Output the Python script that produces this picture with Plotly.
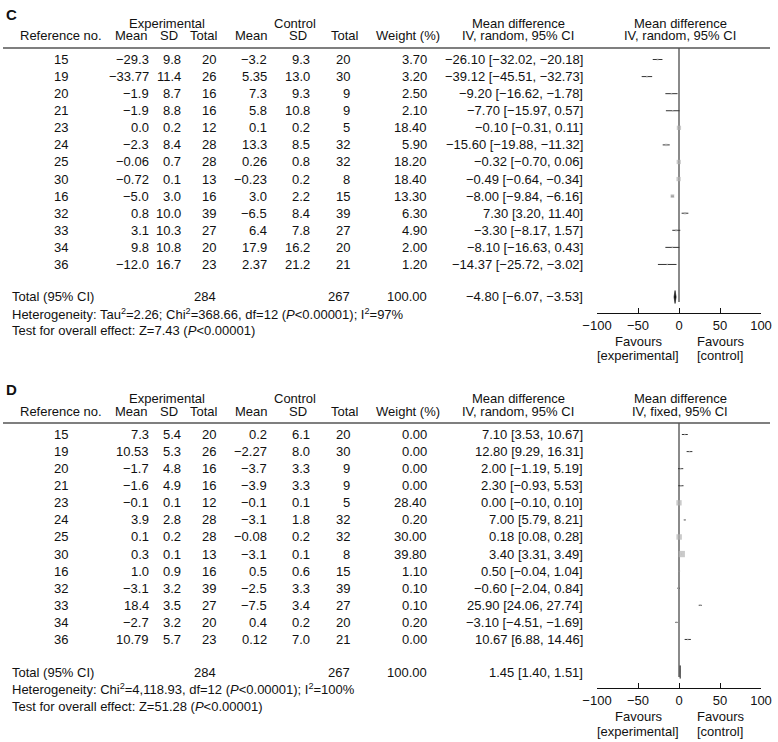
import math
import plotly.graph_objects as go

W, H = 778, 742
FONT = "Liberation Sans, Arial, Helvetica, sans-serif"
TXT = "#111111"

# ---------------- data ----------------
ref_no = ["15", "19", "20", "21", "23", "24", "25", "30", "16", "32", "33", "34", "36"]

# Panel C
c_exp_mean = ["-29.3", "-33.77", "-1.9", "-1.9", "0.0", "-2.3", "-0.06", "-0.72", "-5.0", "0.8", "3.1", "9.8", "-12.0"]
c_exp_sd = ["9.8", "11.4", "8.7", "8.8", "0.2", "8.4", "0.7", "0.1", "3.0", "10.0", "10.3", "10.8", "16.7"]
c_exp_n = [20, 26, 16, 16, 12, 28, 28, 13, 16, 39, 27, 20, 23]
c_ctl_mean = ["-3.2", "5.35", "7.3", "5.8", "0.1", "13.3", "0.26", "-0.23", "3.0", "-6.5", "6.4", "17.9", "2.37"]
c_ctl_sd = ["9.3", "13.0", "9.3", "10.8", "0.2", "8.5", "0.8", "0.2", "2.2", "8.4", "7.8", "16.2", "21.2"]
c_ctl_n = [20, 30, 9, 9, 5, 32, 32, 8, 15, 39, 27, 20, 21]
c_weight = [3.70, 3.20, 2.50, 2.10, 18.40, 5.90, 18.20, 18.40, 13.30, 6.30, 4.90, 2.00, 1.20]
c_md = [-26.10, -39.12, -9.20, -7.70, -0.10, -15.60, -0.32, -0.49, -8.00, 7.30, -3.30, -8.10, -14.37]
c_lo = [-32.02, -45.51, -16.62, -15.97, -0.31, -19.88, -0.70, -0.64, -9.84, 3.20, -8.17, -16.63, -25.72]
c_hi = [-20.18, -32.73, -1.78, 0.57, 0.11, -11.32, 0.06, -0.34, -6.16, 11.40, 1.57, 0.43, -3.02]
c_total_n = [284, 267]
c_total_weight = 100.00
c_total_md = [-4.80, -6.07, -3.53]
c_het = "Heterogeneity: Tau<sup>2</sup>=2.26; Chi<sup>2</sup>=368.66, df=12 (<i>P</i>&lt;0.00001); I<sup>2</sup>=97%"
c_test = "Test for overall effect: Z=7.43 (<i>P</i>&lt;0.00001)"
c_forest_sub = "IV, random, 95% CI"

# Panel D
d_exp_mean = ["7.3", "10.53", "-1.7", "-1.6", "-0.1", "3.9", "0.1", "0.3", "1.0", "-3.1", "18.4", "-2.7", "10.79"]
d_exp_sd = ["5.4", "5.3", "4.8", "4.9", "0.1", "2.8", "0.2", "0.1", "0.9", "3.2", "3.5", "3.2", "5.7"]
d_exp_n = [20, 26, 16, 16, 12, 28, 28, 13, 16, 39, 27, 20, 23]
d_ctl_mean = ["0.2", "-2.27", "-3.7", "-3.9", "-0.1", "-3.1", "-0.08", "-3.1", "0.5", "-2.5", "-7.5", "0.4", "0.12"]
d_ctl_sd = ["6.1", "8.0", "3.3", "3.3", "0.1", "1.8", "0.2", "0.1", "0.6", "3.3", "3.4", "0.2", "7.0"]
d_ctl_n = [20, 30, 9, 9, 5, 32, 32, 8, 15, 39, 27, 20, 21]
d_weight = [0.00, 0.00, 0.00, 0.00, 28.40, 0.20, 30.00, 39.80, 1.10, 0.10, 0.10, 0.20, 0.00]
d_md = [7.10, 12.80, 2.00, 2.30, 0.00, 7.00, 0.18, 3.40, 0.50, -0.60, 25.90, -3.10, 10.67]
d_lo = [3.53, 9.29, -1.19, -0.93, -0.10, 5.79, 0.08, 3.31, -0.04, -2.04, 24.06, -4.51, 6.88]
d_hi = [10.67, 16.31, 5.19, 5.53, 0.10, 8.21, 0.28, 3.49, 1.04, 0.84, 27.74, -1.69, 14.46]
d_total_n = [284, 267]
d_total_weight = 100.00
d_total_md = [1.45, 1.40, 1.51]
d_het = "Heterogeneity: Chi<sup>2</sup>=4,118.93, df=12 (<i>P</i>&lt;0.00001); I<sup>2</sup>=100%"
d_test = "Test for overall effect: Z=51.28 (<i>P</i>&lt;0.00001)"
d_forest_sub = "IV, fixed, 95% CI"

tick_vals = [-100, -50, 0, 50, 100]
tick_text = ["\u2212100", "\u221250", "0", "50", "100"]

# ---------------- layout helpers ----------------
ROW0 = 59.5      # pixel y of first study row (panel C)
DY = 17.08       # row pitch
TOP_LINE = 48    # header rule
AXIS_Y = 313     # forest x-axis line
TOTAL_Y = 297
PANEL_OFF = 375  # vertical offset of panel D


def m(s):
    return str(s).replace("-", "\u2212")


annotations = []
shapes = []


def txt(x, y, s, anchor="center", size=13, bold=False):
    annotations.append(dict(
        x=x / W, y=1 - y / H, xref="paper", yref="paper", text=(f"<b>{s}</b>" if bold else s),
        showarrow=False, xanchor=anchor, yanchor="middle", borderpad=0,
        font=dict(family=FONT, size=size, color=TXT)))


fig = go.Figure()


def panel(off, letter, exp_mean, exp_sd, exp_n, ctl_mean, ctl_sd, ctl_n, weight, md, lo, hi,
          total_n, total_w, total_md, het, test, forest_sub, ax):
    txt(5, 15 + off, letter, anchor="left", size=15, bold=True)
    # headers
    txt(167, 23 + off, "Experimental")
    txt(295, 23 + off, "Control")
    txt(518, 23 + off, "Mean difference")
    txt(680, 23 + off, "Mean difference")
    txt(61, 36 + off, "Reference no.")
    txt(131, 36 + off, "Mean")
    txt(169, 36 + off, "SD")
    txt(204, 36 + off, "Total")
    txt(252, 36 + off, "Mean")
    txt(298, 36 + off, "SD")
    txt(345, 36 + off, "Total")
    txt(408, 36 + off, "Weight (%)")
    txt(518, 36 + off, "IV, random, 95% CI")
    txt(680, 36 + off, forest_sub)
    shapes.append(dict(type="line", xref="paper", yref="paper", x0=3 / W, x1=770 / W,
                       y0=1 - (TOP_LINE + off) / H, y1=1 - (TOP_LINE + off) / H,
                       line=dict(color="#555555", width=1.5)))
    # rows
    for i in range(len(ref_no)):
        y = off + ROW0 + DY * i
        txt(61, y, ref_no[i])
        txt(150, y, m(exp_mean[i]), anchor="right")
        txt(182, y, m(exp_sd[i]), anchor="right")
        txt(217, y, str(exp_n[i]), anchor="right")
        txt(268, y, m(ctl_mean[i]), anchor="right")
        txt(311, y, m(ctl_sd[i]), anchor="right")
        txt(351, y, str(ctl_n[i]), anchor="right")
        txt(428, y, f"{weight[i]:.2f}", anchor="right")
        txt(584, y, m(f"{md[i]:.2f} [{lo[i]:.2f}, {hi[i]:.2f}]"), anchor="right")
    # totals
    ty = TOTAL_Y + off
    txt(11, ty, "Total (95% CI)", anchor="left")
    txt(217, ty, str(total_n[0]), anchor="right")
    txt(351, ty, str(total_n[1]), anchor="right")
    txt(428, ty, f"{total_w:.2f}", anchor="right")
    txt(584, ty, m(f"{total_md[0]:.2f} [{total_md[1]:.2f}, {total_md[2]:.2f}]"), anchor="right")
    txt(11, ty + 17, het, anchor="left")
    txt(11, ty + 34, test, anchor="left")
    # favours
    fy = AXIS_Y + off
    txt(638, fy + 28, "Favours")
    txt(638, fy + 43, "[experimental]")
    txt(720, fy + 28, "Favours")
    txt(720, fy + 43, "[control]")

    # forest plot (data coordinates)
    xa = "x" if ax == 1 else f"x{ax}"
    ya = "y" if ax == 1 else f"y{ax}"
    n = len(ref_no)
    rows = list(range(n))
    t_idx = (TOTAL_Y - ROW0) / DY
    zero_end = (302 - ROW0) / DY
    top_idx = (TOP_LINE - ROW0) / DY
    fig.add_trace(go.Scatter(x=[0, 0], y=[top_idx, zero_end], mode="lines",
                             line=dict(color="#8a8a8a", width=2), xaxis=xa, yaxis=ya,
                             hoverinfo="skip", showlegend=False))
    cx, cy = [], []
    for i in rows:
        cx += [lo[i], hi[i], None]
        cy += [i, i, None]
    fig.add_trace(go.Scatter(x=cx, y=cy, mode="lines", line=dict(color="#333333", width=1),
                             xaxis=xa, yaxis=ya, hoverinfo="skip", showlegend=False))
    fig.add_trace(go.Scatter(x=md, y=rows, mode="markers",
                             marker=dict(symbol="square", color="#b3b3b3",
                                         size=[max(1.5, math.sqrt(w)) for w in weight],
                                         line=dict(width=0)),
                             xaxis=xa, yaxis=ya, hoverinfo="skip", showlegend=False))
    h = 6.5 / DY
    fig.add_trace(go.Scatter(x=[total_md[1], total_md[0], total_md[2], total_md[0], total_md[1]],
                             y=[t_idx, t_idx - h, t_idx, t_idx + h, t_idx],
                             mode="lines", fill="toself", fillcolor="#111111",
                             line=dict(color="#111111", width=0.6),
                             xaxis=xa, yaxis=ya, hoverinfo="skip", showlegend=False))

    y_bot = (AXIS_Y - ROW0) / DY
    dom = [1 - (AXIS_Y + off) / H, 1 - (TOP_LINE + off) / H]
    xkey = "xaxis" if ax == 1 else f"xaxis{ax}"
    ykey = "yaxis" if ax == 1 else f"yaxis{ax}"
    fig.update_layout(**{
        xkey: dict(domain=[597 / W, 761 / W], range=[-100, 100], anchor=ya,
                   showline=True, linecolor="#111111", linewidth=1,
                   ticks="inside", ticklen=5, tickwidth=1, tickcolor="#111111",
                   tickvals=tick_vals, ticktext=tick_text, showgrid=False, zeroline=False,
                   tickfont=dict(family=FONT, size=13, color=TXT), fixedrange=True,
                   automargin=False),
        ykey: dict(domain=dom, range=[y_bot, top_idx], anchor=xa, visible=False,
                   showgrid=False, zeroline=False, fixedrange=True, automargin=False),
    })


panel(0, "C", c_exp_mean, c_exp_sd, c_exp_n, c_ctl_mean, c_ctl_sd, c_ctl_n, c_weight,
      c_md, c_lo, c_hi, c_total_n, c_total_weight, c_total_md, c_het, c_test, c_forest_sub, 1)
panel(PANEL_OFF, "D", d_exp_mean, d_exp_sd, d_exp_n, d_ctl_mean, d_ctl_sd, d_ctl_n, d_weight,
      d_md, d_lo, d_hi, d_total_n, d_total_weight, d_total_md, d_het, d_test, d_forest_sub, 2)

fig.update_layout(width=W, height=H, margin=dict(l=0, r=0, t=0, b=0, pad=0, autoexpand=False),
                  paper_bgcolor="white", plot_bgcolor="white",
                  annotations=annotations, shapes=shapes, showlegend=False,
                  font=dict(family=FONT, size=13, color=TXT))

fig.write_html("out.html", config={"responsive": False, "displayModeBar": False},
               post_script="document.body.style.margin='0';document.body.style.padding='0';"
                           "document.body.style.overflow='hidden';")
